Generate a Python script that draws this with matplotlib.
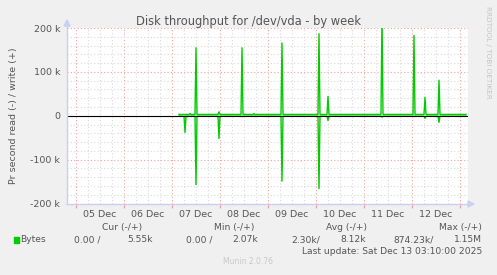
import matplotlib.pyplot as plt
import numpy as np
from matplotlib.patches import Rectangle

# Data (hours counted from 05 Dec 00:00, values in k bytes/s)
day_labels = ['05 Dec', '06 Dec', '07 Dec', '08 Dec', '09 Dec', '10 Dec', '11 Dec', '12 Dec']
data_start_h = 51.5
data_end_h = 195.0
write_base_k = 3.0
read_base_k = 1.0
spike_hours = [54.5, 57.0, 60.0, 71.5, 83.0, 89.0, 103.0, 121.5, 126.0, 153.0, 169.0, 174.5, 181.5]
write_k = [2, 5, 155, 9, 155, 5, 166, 187, 44, 230, 183, 42, 81]
read_k = [38, 1, 157, 52, 2, 1, 149, 166, 11, 3, 1, 6, 15]

legend_heads = ['Cur (-/+)', 'Min (-/+)', 'Avg (-/+)', 'Max (-/+)']
legend_vals = ['0.00 /', '5.55k', '0.00 /', '2.07k', '2.30k/', '8.12k', '874.23k/', '1.15M']

W, H = 497, 275
def fx(x):
    return x / W
def fy(y):
    return 1 - y / H

text_col = '#555555'
green = '#00CC00'
axis_col = '#C8D0F4'
fs = 6.6

# build the 30-minute series
t = np.arange(data_start_h, data_end_h + 0.25, 0.5)
write = np.full(len(t), write_base_k)
read = np.full(len(t), read_base_k)
for h, w, r in zip(spike_hours, write_k, read_k):
    i = int(round((h - data_start_h) / 0.5))
    write[i] = w
    read[i] = r

fig = plt.figure(figsize=(W / 100, H / 100), dpi=100, facecolor='#F0F0F0')
ax = fig.add_axes([fx(67), fy(203.5), (468 - 67) / W, (203.5 - 28) / H])
ax.set_facecolor('white')
xmin, xmax = -4.5, 196.0
ax.set_xlim(xmin, xmax)
ax.set_ylim(-200, 200)
for s in ax.spines.values():
    s.set_visible(False)

# grid
for h in np.arange(0.0, xmax, 6):
    major = (h % 24) == 0
    ax.axvline(h, color='#EFA3A3' if major else '#DADADA', lw=0.8,
               ls=(0, (1, 2)), zorder=1)
for v in range(-180, 201, 20):
    major = (v % 100) == 0
    ax.axhline(v, color='#EFA3A3' if major else '#DADADA', lw=0.8,
               ls=(0, (1, 2)), zorder=1)

ax.plot(t, write, color=green, lw=1.0, zorder=3)
ax.plot(t, -read, color=green, lw=1.0, zorder=3)
ax.axhline(0, color='black', lw=0.8, zorder=4)

# ticks
ax.set_yticks([-200, -100, 0, 100, 200])
ax.set_yticklabels(['-200 k', '-100 k', '0', '100 k', '200 k'])
ax.set_xticks([12 + 24 * i for i in range(len(day_labels))])
ax.set_xticklabels(day_labels)
ax.set_xticks([24 * i for i in range(9)], minor=True)
ax.tick_params(axis='both', which='major', length=0, labelsize=fs + 0.2, labelcolor=text_col)
ax.tick_params(axis='y', pad=5)
ax.tick_params(axis='x', pad=5)
ax.tick_params(axis='x', which='minor', length=3, color='#EFA3A3', width=0.8)
ax.set_ylabel('Pr second read (-) / write (+)', fontsize=fs + 0.2, color=text_col, labelpad=9)

# axis lines with arrows
fig.add_artist(plt.Line2D([fx(67), fx(67)], [fy(204), fy(24)], color=axis_col, lw=1))
fig.add_artist(plt.Line2D([fx(67), fx(470)], [fy(204), fy(204)], color=axis_col, lw=1))
fig.add_artist(plt.Polygon([[fx(64), fy(26)], [fx(70), fy(26)], [fx(67), fy(20)]],
                           closed=True, color=axis_col, transform=fig.transFigure))
fig.add_artist(plt.Polygon([[fx(468), fy(201)], [fx(468), fy(207)], [fx(474), fy(204)]],
                           closed=True, color=axis_col, transform=fig.transFigure))

# title and side text
fig.text(fx(248), fy(21), 'Disk throughput for /dev/vda - by week', ha='center', va='center',
         fontsize=8.3, color=text_col)
fig.text(fx(488), fy(52), 'RRDTOOL / TOBI OETIKER', rotation=270, ha='center', va='center',
         fontsize=5.2, color='#C4C4C4')

# legend
for x, s in zip([122, 234, 346, 460], legend_heads):
    fig.text(fx(x), fy(227.5), s, ha='center', va='center', fontsize=fs, color=text_col)
fig.add_artist(Rectangle((fx(14), fy(243)), 5 / W, 6 / H, color=green,
                         transform=fig.transFigure))
fig.text(fx(20), fy(240), 'Bytes', ha='left', va='center', fontsize=fs, color=text_col)
for x, s in zip([100, 153, 212, 258, 320, 366, 434, 482], legend_vals):
    fig.text(fx(x), fy(240), s, ha='right', va='center', fontsize=fs, color=text_col)
fig.text(fx(482), fy(251.5), 'Last update: Sat Dec 13 03:10:00 2025', ha='right', va='center',
         fontsize=fs, color=text_col)
fig.text(fx(248), fy(262), 'Munin 2.0.76', ha='center', va='center', fontsize=5.5, color='#C8C8C8')

fig.savefig('out.png', dpi=100, facecolor=fig.get_facecolor())
